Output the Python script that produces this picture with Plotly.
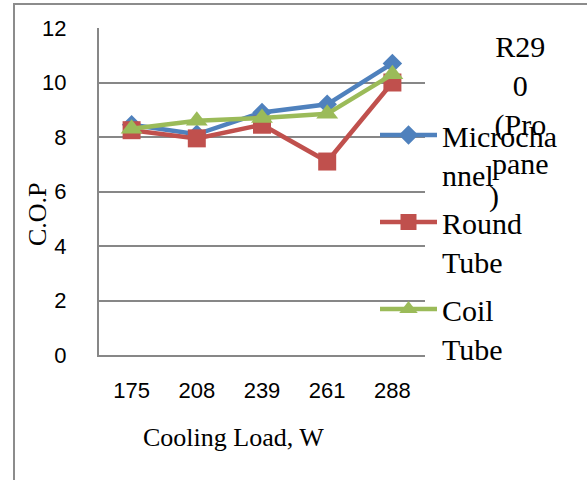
import plotly.graph_objects as go

loads = ["175", "208", "239", "261", "288"]
microchannel = [8.45, 8.1, 8.9, 9.2, 10.7]
round_tube = [8.25, 7.95, 8.45, 7.1, 10.0]
coil_tube = [8.3, 8.6, 8.7, 8.85, 10.3]

series_names = ["Microcha<br>nnel", "Round<br>Tube", "Coil<br>Tube"]
colors = ["#4F81BD", "#C0504D", "#9BBB59"]
symbols = ["diamond", "square", "triangle-up"]
sizes = [15, 18, 19]
legend_title_lines = ["R29", "0", "(Pro", "pane"]

serif = "Liberation Serif, Times New Roman, serif"
sans = "Liberation Sans, Arial, sans-serif"

fig = go.Figure()
for name, vals, c, s, sz in zip(series_names, [microchannel, round_tube, coil_tube], colors, symbols, sizes):
    fig.add_trace(go.Scatter(
        x=loads, y=vals, name=name, mode="lines+markers",
        line=dict(color=c, width=4.5),
        marker=dict(symbol=s, size=sz, color=c),
        legendgroup=name,
    ))

W, H = 587, 480
L, R, T, B = 99, 162, 28, 125
pw, ph = W - L - R, H - T - B

def px_x(p):
    return (p - L) / pw

def px_y(p):
    return (H - B - p) / ph

fig.update_layout(
    width=W, height=H,
    margin=dict(l=L, r=R, t=T, b=B, autoexpand=False),
    paper_bgcolor="white", plot_bgcolor="white",
    showlegend=True,
    legend=dict(
        x=px_x(375), y=px_y(109), xanchor="left", yanchor="top",
        font=dict(family=serif, size=30, color="black"),
        valign="top", itemwidth=57, tracegroupgap=6,
        bgcolor="rgba(0,0,0,0)",
    ),
    xaxis=dict(
        type="category", range=[-0.5, 4.5],
        showline=True, linecolor="#878787", linewidth=2,
        showgrid=False, ticks="",
        tickfont=dict(family=sans, size=22, color="black"),
        ticklabelstandoff=15,
    ),
    yaxis=dict(
        range=[0, 12], dtick=2,
        showline=True, linecolor="#878787", linewidth=2,
        showgrid=True, gridcolor="#878787", gridwidth=2,
        zeroline=False, ticks="",
        tickfont=dict(family=sans, size=22, color="black"),
        ticklabelstandoff=26,
    ),
    shapes=[dict(type="rect", xref="paper", yref="paper",
                 x0=px_x(14), x1=px_x(620), y0=px_y(4), y1=px_y(520),
                 line=dict(color="#8C8C8C", width=2), fillcolor="rgba(0,0,0,0)", layer="below")],
    annotations=[
        dict(text="<br>".join(legend_title_lines), xref="paper", yref="paper",
             x=px_x(520), y=px_y(28), xanchor="center", yanchor="top", showarrow=False,
             font=dict(family=serif, size=30, color="black")),
        dict(text=")", xref="paper", yref="paper",
             x=px_x(494), y=px_y(177), xanchor="center", yanchor="top", showarrow=False,
             font=dict(family=serif, size=30, color="black")),
        dict(text="C.O.P", xref="paper", yref="paper", textangle=-90,
             x=px_x(38), y=px_y(214), xanchor="center", yanchor="middle", showarrow=False,
             font=dict(family=serif, size=26, color="black")),
        dict(text="Cooling Load, W", xref="paper", yref="paper",
             x=px_x(233), y=px_y(438), xanchor="center", yanchor="middle", showarrow=False,
             font=dict(family=serif, size=26, color="black")),
    ],
)

fig.write_html("out.html")
